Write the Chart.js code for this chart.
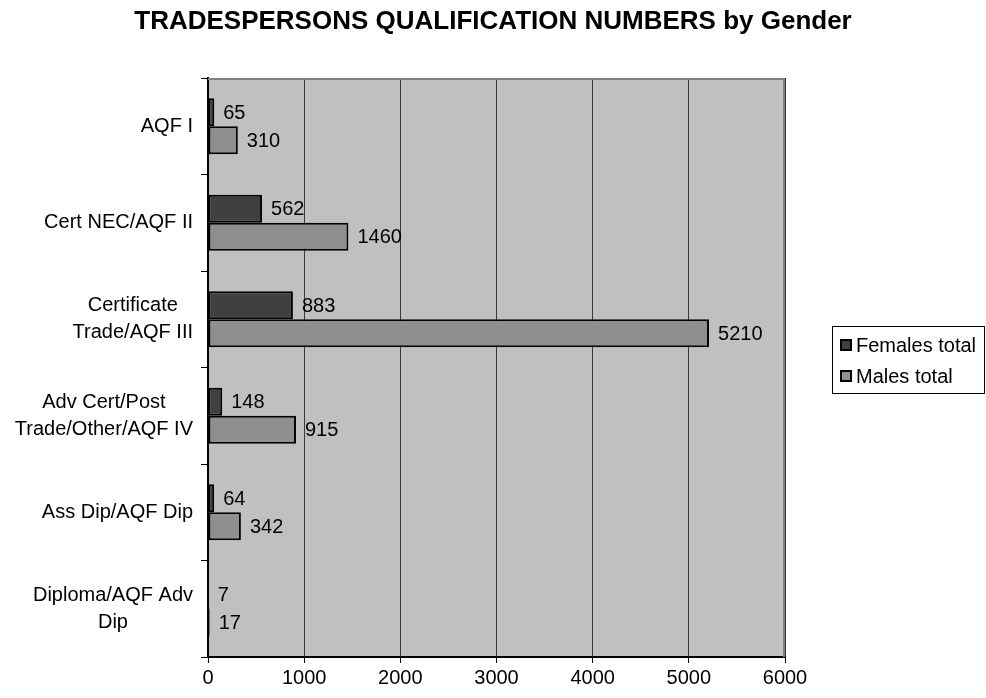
<!DOCTYPE html>
<html>
<head>
<meta charset="utf-8">
<script src="https://cdn.jsdelivr.net/npm/chart.js@4/dist/chart.umd.min.js"></script>
<style>
  html, body { margin: 0; padding: 0; background: #ffffff; }
  #wrap { width: 986px; height: 698px; }
</style>
</head>
<body>
<div id="wrap"><canvas id="c" width="986" height="698"></canvas></div>
<script>
const titleText = 'TRADESPERSONS QUALIFICATION NUMBERS by Gender';
const categories = [
  ['AQF I'],
  ['Cert NEC/AQF II'],
  ['Certificate', 'Trade/AQF III'],
  ['Adv Cert/Post', 'Trade/Other/AQF IV'],
  ['Ass Dip/AQF Dip'],
  ['Diploma/AQF Adv', 'Dip']
];
const seriesNames = ['Females total', 'Males total'];
const femalesTotal = [65, 562, 883, 148, 64, 7];
const malesTotal = [310, 1460, 5210, 915, 342, 17];
const xTickValues = [0, 1000, 2000, 3000, 4000, 5000, 6000];

const FONT = "'Liberation Sans', Arial, sans-serif";
const seriesColors = ['#404040', '#8f8f8f'];

const titlePlugin = {
  id: 'titlePlugin',
  afterDraw(chart) {
    const { ctx } = chart;
    ctx.save();
    ctx.font = 'bold 26px ' + FONT;
    ctx.fillStyle = '#000';
    ctx.textAlign = 'center';
    ctx.textBaseline = 'middle';
    ctx.fillText(titleText, 493, 22);
    ctx.restore();
  }
};

const plotBg = {
  id: 'plotBg',
  beforeDraw(chart) {
    const { ctx, chartArea: a } = chart;
    ctx.save();
    ctx.fillStyle = '#c0c0c0';
    ctx.fillRect(a.left, a.top, a.right - a.left, a.bottom - a.top);
    ctx.restore();
  },
  afterDraw(chart) {
    const { ctx, chartArea: a } = chart;
    ctx.save();
    ctx.strokeStyle = '#808080';
    ctx.lineWidth = 2;
    ctx.beginPath();
    ctx.moveTo(a.left, a.top + 1);
    ctx.lineTo(a.right - 1, a.top + 1);
    ctx.lineTo(a.right - 1, a.bottom);
    ctx.stroke();
    ctx.restore();
  }
};

const valueLabels = {
  id: 'valueLabels',
  afterDatasetsDraw(chart) {
    const { ctx } = chart;
    ctx.save();
    ctx.font = '20px ' + FONT;
    ctx.fillStyle = '#000';
    ctx.textAlign = 'left';
    ctx.textBaseline = 'middle';
    chart.data.datasets.forEach((ds, i) => {
      const meta = chart.getDatasetMeta(i);
      meta.data.forEach((bar, j) => {
        ctx.fillText(String(ds.data[j]), bar.x + 9, bar.y + 1);
      });
    });
    ctx.restore();
  }
};

const yLabels = {
  id: 'yLabels',
  afterDraw(chart) {
    const { ctx } = chart;
    const ys = chart.scales.y;
    const right = 193;
    const lineH = 27;
    ctx.save();
    ctx.font = '20px ' + FONT;
    ctx.fillStyle = '#000';
    ctx.textAlign = 'center';
    ctx.textBaseline = 'middle';
    categories.forEach((lines, i) => {
      const cy = ys.getPixelForTick(i);
      const maxW = Math.max(...lines.map(l => ctx.measureText(l).width));
      const cx = right - maxW / 2;
      const y0 = cy - (lines.length - 1) * lineH / 2;
      lines.forEach((l, k) => ctx.fillText(l, cx, y0 + k * lineH));
    });
    ctx.restore();
  }
};

const legendBox = {
  id: 'legendBox',
  afterDraw(chart) {
    const { ctx } = chart;
    ctx.save();
    ctx.strokeStyle = '#000';
    ctx.lineWidth = 1;
    ctx.strokeRect(832.5, 326.5, 152, 67);
    ctx.font = '20px ' + FONT;
    ctx.textAlign = 'left';
    ctx.textBaseline = 'middle';
    seriesNames.forEach((name, i) => {
      const y = 339 + i * 31;
      ctx.fillStyle = seriesColors[i];
      ctx.fillRect(840, y, 12, 12);
      ctx.strokeStyle = '#000';
      ctx.lineWidth = 2;
      ctx.strokeRect(841, y + 1, 10, 10);
      ctx.fillStyle = '#000';
      ctx.fillText(name, 856, y + 7);
    });
    ctx.restore();
  }
};

new Chart(document.getElementById('c'), {
  type: 'bar',
  data: {
    labels: categories,
    datasets: [
      { label: seriesNames[0], data: femalesTotal, backgroundColor: seriesColors[0], borderColor: '#000', borderWidth: 2, borderSkipped: false },
      { label: seriesNames[1], data: malesTotal, backgroundColor: seriesColors[1], borderColor: '#000', borderWidth: 2, borderSkipped: false }
    ]
  },
  options: {
    indexAxis: 'y',
    responsive: false,
    animation: false,
    devicePixelRatio: 1,
    layout: { padding: { left: 0, right: 201, top: 78, bottom: 0 } },
    datasets: { bar: { categoryPercentage: 0.58, barPercentage: 1.0 } },
    plugins: {
      legend: { display: false },
      tooltip: { enabled: false },
      title: { display: false }
    },
    scales: {
      x: {
        min: 0,
        max: 6000,
        afterBuildTicks(scale) { scale.ticks = xTickValues.map(v => ({ value: v })); },
        afterFit(scale) { scale.height = 41; },
        ticks: { color: '#000', font: { family: FONT, size: 20 }, padding: 3, maxRotation: 0,
                 callback: (v) => String(v) },
        grid: { color: '#3a3a3a', lineWidth: 1, tickLength: 6, tickColor: '#000' },
        border: { display: true, color: '#000', width: 2 }
      },
      y: {
        offset: true,
        afterFit(scale) { scale.width = 208; },
        ticks: { display: false },
        grid: { offset: true, drawOnChartArea: false, tickLength: 7, color: '#000', lineWidth: 1 },
        border: { display: true, color: '#000', width: 2 }
      }
    }
  },
  plugins: [plotBg, valueLabels, yLabels, legendBox, titlePlugin]
});
</script>
</body>
</html>
